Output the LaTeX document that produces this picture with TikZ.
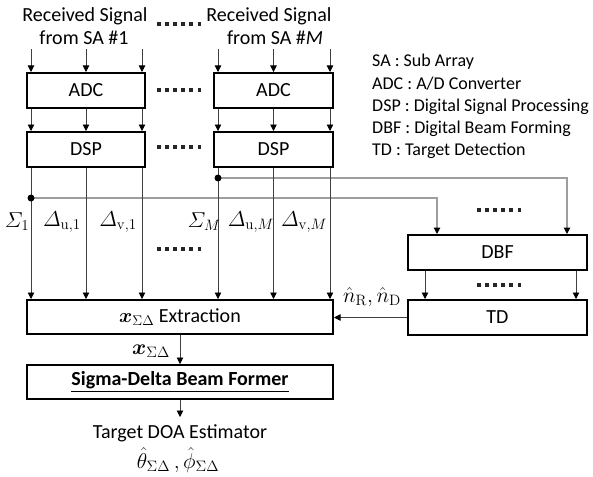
\RequirePackage{fix-cm}
\documentclass[tikz,border=0pt]{standalone}
\usepackage{amsmath}
\usepackage{bm}
\usepackage[no-math]{fontspec}
\setmainfont{Carlito}
\usetikzlibrary{arrows.meta,calc}

\begin{document}
\begin{tikzpicture}[x=1pt,y=-1pt,
  every node/.style={font=\fontsize{20}{24}\selectfont, inner sep=0pt},
  blk/.style={draw=black, line width=2pt, minimum height=35pt},
  sig/.style={draw=black!75, line width=0.8pt, -{Triangle[length=6.5pt,width=6.5pt,color=black]}},
  tap/.style={draw=black!38, line width=1.2pt, -{Triangle[length=6.5pt,width=6.5pt,color=black]}},
  junc/.style={fill=black},
  dotrow/.style={draw=black!85, line width=3.5pt, dash pattern=on 3.5pt off 4.6pt},
  legend/.style={font=\fontsize{18}{22}\selectfont, anchor=base west},
  lbl/.style={font=\fontsize{21.5}{25}\selectfont}
]
\useasboundingbox (0,0) rectangle (593,476);

% input labels
\node[anchor=base] (rs1) at (85,22) {Received Signal};
\node[anchor=base] (fs1) at (84,45) {from SA \#1};
\node[anchor=base] (rsM) at (269,22) {Received Signal};
\node[anchor=base] (fsM) at (275,45) {from SA \#\textit{M}};

% legend
\node[legend] (lg1) at (372,67) {SA : Sub Array};
\node[legend] (lg2) at (372,89) {ADC : A/D Converter};
\node[legend] (lg3) at (372,111) {DSP : Digital Signal Processing};
\node[legend] (lg4) at (372,133) {DBF : Digital Beam Forming};
\node[legend] (lg5) at (372,155) {TD : Target Detection};

% blocks
\node[blk, minimum width=118pt] (adc1) at (86,90.5) {ADC};
\node[blk, minimum width=119pt] (adcM) at (273.5,90.5) {ADC};
\node[blk, minimum width=118pt] (dsp1) at (86,149.5) {DSP};
\node[blk, minimum width=119pt] (dspM) at (273.5,149.5) {DSP};
\node[blk, minimum width=306pt, minimum height=34pt] (ext) at (180,317) {$\bm{x}_{\Sigma\Delta}$ Extraction};
\node[blk, minimum width=306pt, minimum height=34pt] (sdbf) at (180,382) {\textbf{\underline{Sigma-Delta Beam Former}}};
\node[blk, minimum width=179pt] (dbf) at (497.5,252.5) {DBF};
\node[blk, minimum width=179pt] (td) at (497.5,317.5) {TD};

% inputs and ADC -> DSP
\foreach \a/\b in {adc1/dsp1, adcM/dspM}{
  \draw[sig] ([xshift=5pt,yshift=23pt]\a.north west) -- ([xshift=5pt]\a.north west);
  \draw[sig] ([yshift=23pt]\a.north) -- (\a.north);
  \draw[sig] ([xshift=-4pt,yshift=23pt]\a.north east) -- ([xshift=-4pt]\a.north east);
  \draw[sig] ([xshift=5pt]\a.south west) -- ([xshift=5pt]\b.north west);
  \draw[sig] (\a.south) -- (\b.north);
  \draw[sig] ([xshift=-4pt]\a.south east) -- ([xshift=-4pt]\b.north east);
}

% sum channels tapped towards the beam former
\path ([xshift=5pt]dsp1.south west) ++(0,30) coordinate (j1);
\path ([xshift=5pt]dspM.south west) ++(0,10) coordinate (jM);
\draw[tap] (j1) -| ([xshift=30pt]dbf.north west);
\draw[tap] (jM) -| ([xshift=-21pt]dbf.north east);

% DSP outputs -> extraction
\foreach \b in {dsp1, dspM}{
  \draw[sig] ([xshift=5pt]\b.south west) -- ([xshift=5pt]\b.south west |- ext.north);
  \draw[sig] (\b.south) -- (\b.south |- ext.north);
  \draw[sig] ([xshift=-4pt]\b.south east) -- ([xshift=-4pt]\b.south east |- ext.north);
}
\fill[junc] (j1) circle (3.5pt);
\fill[junc] (jM) circle (3.5pt);

% channel labels
\node[lbl] (s1) at (17,222) {$\varSigma_1$};
\node[lbl] (du1) at (62,222) {$\varDelta_{\mathrm{u},1}$};
\node[lbl] (dv1) at (118,222) {$\varDelta_{\mathrm{v},1}$};
\node[lbl] (sM) at (204,222) {$\varSigma_M$};
\node[lbl] (duM) at (251,222) {$\varDelta_{\mathrm{u},M}$};
\node[lbl] (dvM) at (304,222) {$\varDelta_{\mathrm{v},M}$};

% DBF -> TD -> extraction
\draw[sig] ([xshift=18pt]dbf.south west) -- ([xshift=18pt]td.north west);
\draw[sig] ([xshift=-12pt]dbf.south east) -- ([xshift=-12pt]td.north east);
\draw[sig] (td.west) -- (td.west -| ext.east);
\node[lbl] (nrd) at (372,297) {$\hat{n}_{\mathrm{R}},\hat{n}_{\mathrm{D}}$};

% extraction -> sigma-delta beam former -> estimator
\draw[sig] (ext.south) -- (sdbf.north);
\node[lbl] (xsd) at (151,351) {$\bm{x}_{\Sigma\Delta}$};
\coordinate (out) at (180,417);
\draw[sig] (sdbf.south) -- (out);
\node (doa) at (180,433) {Target DOA Estimator};
\node[lbl] (ang) at (178,460) {$\hat{\theta}_{\Sigma\Delta}\,,\hat{\phi}_{\Sigma\Delta}$};

% ellipsis marks
\draw[dotrow] (157,24) -- (203,24);
\draw[dotrow] (157,90) -- (203,90);
\draw[dotrow] (157,147) -- (203,147);
\draw[dotrow] (157,249) -- (203,249);
\draw[dotrow] (477,210) -- (523,210);
\draw[dotrow] (477,285) -- (523,285);
\end{tikzpicture}
\end{document}
